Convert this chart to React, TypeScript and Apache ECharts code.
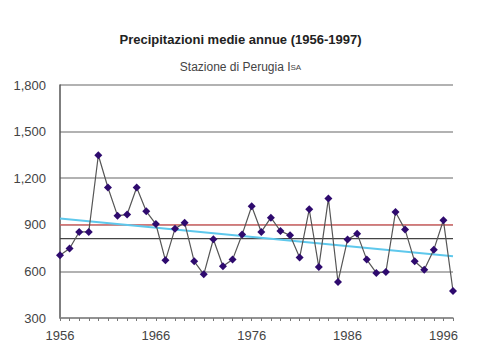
import React, { useEffect, useRef } from "react";
import * as echarts from "echarts";

const years: string[] = [];
for (let y = 1956; y <= 1997; y++) years.push(String(y));

const precipitation = [
  704, 747, 854, 854, 1348, 1140, 959, 966, 1140, 987,
  905, 671, 875, 914, 665, 581, 807, 633, 676, 837,
  1019, 854, 946, 860, 832, 689, 1000, 628, 1069, 532,
  805, 843, 676, 590, 596, 982, 869, 665, 611, 740,
  929, 474,
];

const referenceValue = 900;
const meanValue = 811;
const trendStart = 940;
const trendEnd = 697;

const yTicks = [300, 600, 900, 1200, 1500, 1800];

export default function App() {
  const ref = useRef<HTMLDivElement>(null);
  useEffect(() => {
    document.body.style.margin = "0";
    const chart = echarts.init(ref.current!, null, { renderer: "svg" });
    const font = "'Liberation Sans', Arial, sans-serif";
    const first = years[0];
    const last = years[years.length - 1];
    chart.setOption({
      animation: false,
      backgroundColor: "#ffffff",
      title: [
        {
          text: "Precipitazioni medie annue (1956-1997)",
          left: "center",
          top: 28,
          textStyle: { fontFamily: font, fontSize: 13, fontWeight: "bold", color: "#222" },
        },
        {
          text: "{a|Stazione di Perugia I}{b|SA}",
          left: "center",
          top: 56,
          textStyle: {
            fontFamily: font,
            fontWeight: "normal",
            rich: {
              a: { fontFamily: font, fontSize: 12, fontWeight: "normal", color: "#444" },
              b: { fontFamily: font, fontSize: 8, fontWeight: "normal", color: "#444" },
            },
          },
        },
      ],
      grid: { left: 60, right: 28, top: 85, bottom: 44, containLabel: false },
      xAxis: {
        type: "category",
        data: years,
        boundaryGap: false,
        axisLine: { lineStyle: { color: "#888", width: 1.5 } },
        axisTick: { interval: 0, length: 3, lineStyle: { color: "#777" } },
        axisLabel: {
          interval: 9,
          fontFamily: font,
          fontSize: 13,
          color: "#444",
          margin: 11,
        },
        splitLine: { show: false },
      },
      yAxis: {
        type: "value",
        min: yTicks[0],
        max: yTicks[yTicks.length - 1],
        interval: 300,
        axisLine: { show: true, lineStyle: { color: "#555", width: 1.5 } },
        axisTick: { show: false },
        axisLabel: {
          fontFamily: font,
          fontSize: 13,
          color: "#444",
          margin: 14,
          formatter: (v: number) => v.toLocaleString("en-US"),
        },
        splitLine: { show: true, lineStyle: { color: "#999", width: 1.5 } },
      },
      series: [
        {
          type: "line",
          data: [[first, referenceValue], [last, referenceValue]],
          symbol: "none",
          lineStyle: { color: "#e06464", width: 1.3 },
          z: 3,
          silent: true,
        },
        {
          type: "line",
          data: [[first, meanValue], [last, meanValue]],
          symbol: "none",
          lineStyle: { color: "#444", width: 1.3 },
          z: 3,
          silent: true,
        },
        {
          type: "line",
          data: [[first, trendStart], [last, trendEnd]],
          symbol: "none",
          lineStyle: { color: "#5ec8ec", width: 2 },
          z: 4,
          silent: true,
        },
        {
          type: "line",
          data: precipitation,
          symbol: "diamond",
          symbolSize: 8,
          showAllSymbol: true,
          itemStyle: { color: "#2e0a6e" },
          lineStyle: { color: "#555", width: 1.2 },
          z: 5,
        },
      ],
    });
    return () => chart.dispose();
  }, []);
  return (
    <div
      ref={ref}
      style={{ position: "absolute", left: 0, top: 0, width: 481, height: 362 }}
    />
  );
}
